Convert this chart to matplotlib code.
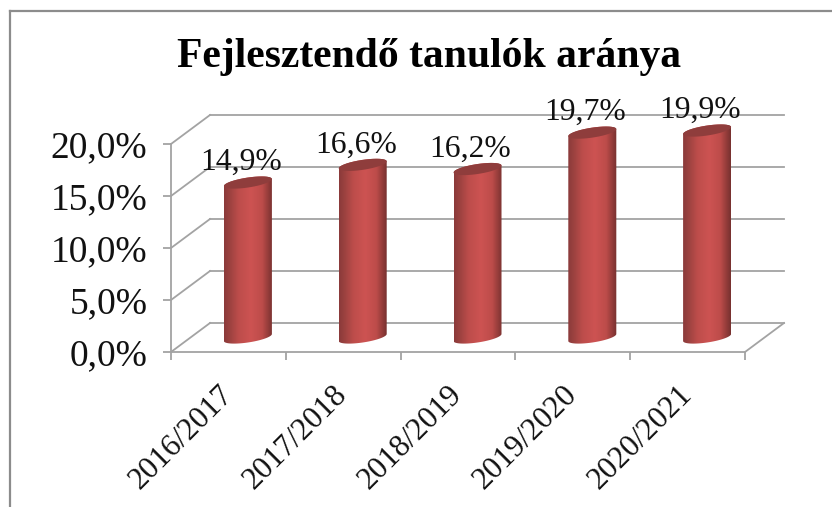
import numpy as np
import matplotlib
matplotlib.use("Agg")
import matplotlib.pyplot as plt
from matplotlib.colors import LinearSegmentedColormap
from matplotlib.lines import Line2D
from matplotlib.patches import PathPatch, Polygon
from matplotlib.path import Path
from matplotlib.transforms import Affine2D

categories = ["2016/2017", "2017/2018", "2018/2019", "2019/2020", "2020/2021"]
values = [14.9, 16.6, 16.2, 19.7, 19.9]
labels = ["14,9%", "16,6%", "16,2%", "19,7%", "19,9%"]
yticks = [0, 5, 10, 15, 20]
ytick_labels = ["0,0%", "5,0%", "10,0%", "15,0%", "20,0%"]

W, H = 832, 507
plt.rcParams['font.family'] = ['Liberation Serif', 'DejaVu Serif']

fig = plt.figure(figsize=(W / 100, H / 100), dpi=100)
ax = fig.add_axes([171 / W, (H - 352) / H, 574 / W, 208 / H])
ax.set_xlim(0, 5)
ax.set_ylim(0, 20)
ax.patch.set_visible(False)

grey = "#a3a3a3"
lw = 1.3
for s in ["top", "right"]:
    ax.spines[s].set_visible(False)
for s in ["left", "bottom"]:
    ax.spines[s].set_color(grey)
    ax.spines[s].set_linewidth(lw)

ax.set_yticks(yticks)
ax.set_yticklabels(ytick_labels, fontsize=27, color="#111111")
ax.set_xticks(range(6))
ax.set_xticklabels([])
ax.tick_params(axis="both", which="major", color=grey, width=lw, length=6)
ax.tick_params(axis="y", pad=11)

# category labels sit on minor ticks, nudged left so the rotated text ends under the bar
ax.set_xticks([i + 0.41 for i in range(5)], minor=True)
ax.set_xticklabels(categories, minor=True, fontsize=22.5, rotation=45, ha="right",
                   rotation_mode="anchor", color="#111111")
ax.tick_params(axis="x", which="minor", length=0, pad=20)

# depth offsets in pixels: back wall and the plane of the bars
back = ax.transData + Affine2D().translate(39, 29)
mid = ax.transData + Affine2D().translate(19.5, 14.5)

# back wall and side wall gridlines
for y in yticks:
    ax.plot([0, 5], [y, y], color=grey, lw=lw, transform=back, clip_on=False, zorder=1)
    ax.add_line(Line2D([171, 210], [H - (352 - y * 10.4), H - (323 - y * 10.4)],
                       color=grey, lw=lw, transform=None, zorder=1, clip_on=False))
ax.add_line(Line2D([745, 784], [H - 352, H - 323], color=grey, lw=lw, transform=None,
                   zorder=1, clip_on=False))

# cylinders
half_w = 24 / 114.8
half_h = 5 / 10.4
tilt = 3.5 / 10.4
cmap = LinearSegmentedColormap.from_list("cyl", [
    (0.0, "#8a3a3a"), (0.12, "#9c4240"), (0.3, "#bd4d4b"), (0.55, "#cd5352"),
    (0.78, "#bd4c4a"), (0.93, "#8c3937"), (1.0, "#773130")])
grad = np.linspace(0, 1, 256).reshape(1, -1)


def ellipse_arc(cx, cy, t0, t1):
    t = np.linspace(t0, t1, 40)
    return np.column_stack([cx + half_w * np.cos(t),
                            cy + half_h * np.sin(t) + tilt * np.cos(t)])


for i, v in enumerate(values):
    cx = i + 0.5
    lower = ellipse_arc(cx, 0, np.pi, 2 * np.pi)
    upper = ellipse_arc(cx, v, 0, np.pi)
    verts = np.vstack([lower, upper, lower[:1]])
    body = PathPatch(Path(verts), transform=mid, fc="none", ec="none", clip_on=False)
    ax.add_patch(body)
    img = ax.imshow(grad, cmap=cmap, aspect="auto", zorder=3, interpolation="bilinear",
                    extent=(cx - half_w, cx + half_w, -2, v + 2), transform=mid)
    img.set_clip_box(fig.bbox)
    img.set_clip_path(body)
    cap = Polygon(ellipse_arc(cx, v, 0, 2 * np.pi), closed=True, transform=mid,
                  fc="#8f3d3c", ec="none", zorder=4, clip_on=False)
    ax.add_patch(cap)

label_shift = ax.transData + Affine2D().translate(12.5, 34.5)
for i, v in enumerate(values):
    ax.text(i + 0.5, v, labels[i], transform=label_shift, ha="center", va="center",
            fontsize=22.8, color="#111111", zorder=5, clip_on=False)

ax.set_xlim(0, 5)
ax.set_ylim(0, 20)

fig.text(429 / W, 1 - 57 / H, "Fejlesztendő tanulók aránya", ha="center", va="center",
         fontsize=30, fontweight="bold", color="black")

# outer chart frame
frame = "#8c8c8c"
fig.add_artist(Line2D([10, 10], [0, H - 11], color=frame, lw=1.6, transform=None))
fig.add_artist(Line2D([10, W], [H - 11, H - 11], color=frame, lw=1.6, transform=None))

fig.savefig("out.png", dpi=100)
